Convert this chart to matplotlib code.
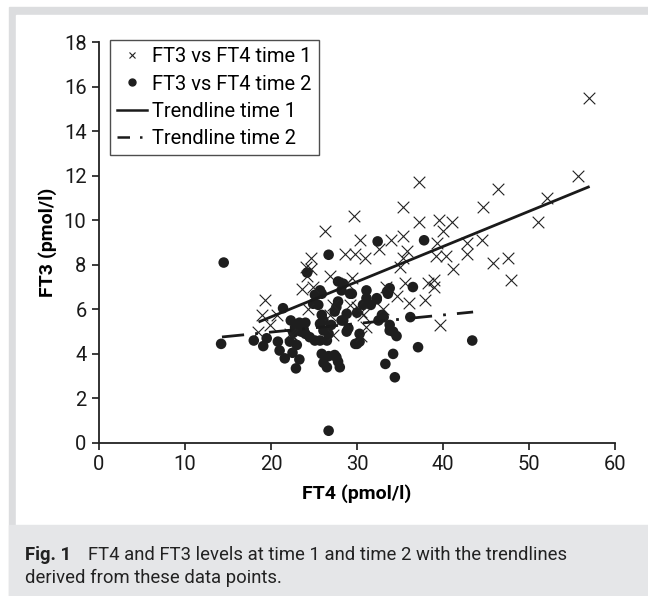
import matplotlib
matplotlib.use("Agg")
import matplotlib.pyplot as plt
import numpy as np
from matplotlib.patches import Rectangle
from matplotlib.lines import Line2D

plt.rcParams['font.family'] = ['Roboto', 'DejaVu Sans']

# FT4 / FT3 at time 1 (crosses)
ft4_t1 = [57.0, 55.7, 46.4, 37.2, 52.1, 35.4, 44.7, 29.7, 51.0, 26.3,
          37.2, 39.5, 41.1, 30.3, 34.0, 35.4, 39.3, 40.0, 42.8, 44.5,
          28.6, 29.8, 30.9, 32.5, 35.4, 39.2, 40.4, 42.8, 24.7, 26.9,
          29.4, 41.2, 45.8, 47.6, 47.9, 38.9, 37.9, 39.7, 33.4, 29.2,
          24.9, 24.1, 24.7, 24.2, 23.6, 19.3, 24.3, 18.9, 20.7, 27.2,
          27.2, 18.5, 22.4, 28.8, 19.9, 22.2, 30.5, 31.1, 26.9, 30.0,
          30.7, 30.5, 35.0, 35.6, 34.6, 35.8, 38.3, 39.0, 33.0, 36.0]
ft3_t1 = [15.5, 12.0, 11.4, 11.7, 11.0, 10.6, 10.6, 10.2, 9.9, 9.5,
          9.9, 10.0, 9.9, 9.1, 9.1, 9.3, 9.0, 9.5, 9.0, 9.1,
          8.5, 8.5, 8.3, 8.7, 8.3, 8.4, 8.4, 8.5, 8.3, 7.5,
          7.4, 7.8, 8.1, 8.3, 7.3, 7.3, 6.4, 5.3, 7.0, 6.2,
          7.0, 7.9, 7.8, 7.5, 6.9, 6.4, 6.0, 5.75, 5.75, 6.2,
          4.85, 5.0, 4.85, 7.2, 5.3, 4.9, 5.9, 5.2, 5.75, 6.1,
          5.75, 4.8, 7.9, 7.2, 6.6, 8.6, 7.2, 7.0, 6.0, 6.3]

# FT4 / FT3 at time 2 (dots)
ft4_t2 = [14.5, 14.2, 18.0, 19.1, 19.5, 20.8, 21.0, 21.6, 22.2, 22.5,
          23.0, 23.3, 22.9, 21.4, 22.3, 22.8, 23.3, 23.8, 22.6, 24.0,
          23.5, 24.2, 26.7, 25.3, 25.9, 25.5, 25.9, 26.1, 25.7, 26.1,
          26.7, 26.5, 25.9, 26.7, 26.1, 26.5, 27.6, 27.8, 28.0, 26.7,
          27.8, 27.6, 28.8, 28.4, 29.0, 28.8, 30.0, 30.0, 30.3, 30.7,
          32.3, 33.6, 33.1, 33.8, 33.3, 28.4, 27.8, 28.2, 25.7, 25.1,
          31.1, 29.4, 25.7, 25.1, 24.5, 24.0, 23.4, 27.4, 30.3, 32.9,
          32.5, 33.8, 34.2, 34.6, 34.2, 34.4, 36.2, 32.4, 37.8, 31.1,
          32.3, 33.5, 33.8, 36.5, 29.2, 37.1, 43.4, 24.9, 29.8, 28.2,
          27.0, 27.4, 31.6]
ft3_t2 = [8.1, 4.45, 4.6, 4.35, 4.7, 4.55, 4.15, 3.8, 4.55, 4.05,
          4.4, 3.75, 3.35, 6.05, 5.5, 5.2, 5.4, 5.1, 4.95, 5.4,
          5.0, 7.65, 8.45, 6.65, 6.7, 6.2, 5.75, 5.5, 5.35, 5.05,
          4.9, 4.6, 4.0, 3.9, 3.6, 3.4, 3.85, 3.65, 3.4, 0.55,
          6.35, 6.1, 5.8, 5.5, 5.15, 5.0, 5.85, 4.45, 4.55, 6.2,
          6.5, 6.7, 5.65, 5.05, 3.55, 7.15, 7.25, 6.85, 6.85, 6.65,
          6.5, 6.7, 4.6, 4.6, 4.75, 4.9, 5.3, 3.95, 4.9, 5.75,
          5.5, 5.3, 5.0, 4.8, 4.0, 2.95, 5.65, 9.05, 9.1, 6.85,
          6.45, 6.8, 6.95, 7.0, 6.7, 4.3, 4.6, 6.25, 4.45, 5.5,
          5.3, 5.9, 6.2]

# trendlines: x range, slope, intercept
trend1_x = [18.7, 56.9]
trend1_coef = [0.158, 2.50]
trend2_x = [14.3, 43.5]
trend2_coef = [0.0384, 4.21]

fig = plt.figure(figsize=(6.48, 5.96), dpi=100)
W, H = 648, 596

def px_rect(x0, y0, x1, y1, color):
    fig.patches.append(Rectangle((x0 / W, 1 - y1 / H), (x1 - x0) / W, (y1 - y0) / H,
                                 transform=fig.transFigure, color=color, zorder=-5))

px_rect(9, 7, 648, 596, '#dcdddf')
px_rect(16, 15, 648, 525, 'white')
px_rect(9, 525, 648, 596, '#e5e6e8')

ax = fig.add_axes([99 / W, 1 - 443 / H, (615 - 99) / W, (443 - 42) / H])
ax.set_facecolor('none')

ax.scatter(ft4_t1, ft3_t1, marker='x', s=70, c='#222222', linewidths=0.8, zorder=3)
ax.scatter(ft4_t2, ft3_t2, marker='o', s=58, c='#1e1e1e', edgecolors='none', zorder=2)

x1 = np.array(trend1_x)
ax.plot(x1, np.polyval(trend1_coef, x1), color='#1a1a1a', lw=2.0, zorder=4)
x2 = np.array(trend2_x)
ax.plot(x2, np.polyval(trend2_coef, x2), color='#1a1a1a', lw=2.0,
        linestyle=(0, (8, 4, 1, 4)), zorder=4)

ax.set_xlim(0, 60)
ax.set_ylim(0, 18)
ax.set_xticks(range(0, 61, 10))
ax.set_yticks(range(0, 19, 2))
for s in ['top', 'right']:
    ax.spines[s].set_visible(False)
for s in ['left', 'bottom']:
    ax.spines[s].set_linewidth(1.3)
    ax.spines[s].set_color('#222222')
ax.tick_params(direction='out', length=5, width=1.2, labelsize=14.5, colors='#1a1a1a', pad=4)
ax.set_xlabel('FT4 (pmol/l)', fontsize=14, fontweight='bold', labelpad=7)
ax.set_ylabel('FT3 (pmol/l)', fontsize=14, fontweight='bold', labelpad=5)

handles = [
    Line2D([], [], marker='x', ls='none', color='#222222', markersize=5, markeredgewidth=0.8),
    Line2D([], [], marker='o', ls='none', color='#1e1e1e', markersize=5),
    Line2D([], [], color='#1a1a1a', lw=1.8),
    Line2D([], [], color='#1a1a1a', lw=1.8, linestyle=(0, (5, 4, 1, 4))),
]
labels = ['FT3 vs FT4 time 1', 'FT3 vs FT4 time 2', 'Trendline time 1', 'Trendline time 2']
leg = ax.legend(handles, labels, loc='upper left', bbox_to_anchor=(0.021, 1.005),
                fontsize=14.5, frameon=True, fancybox=False, handlelength=1.5,
                handletextpad=0.25, borderpad=0.35, labelspacing=0.42, borderaxespad=0.0)
leg.get_frame().set_edgecolor('#222222')
leg.get_frame().set_linewidth(1.0)

fig.text(25 / W, 1 - 555 / H, 'Fig. 1', fontsize=13.3, fontweight='bold', va='center', color='#222222')
fig.text(88 / W, 1 - 555 / H, 'FT4 and FT3 levels at time 1 and time 2 with the trendlines',
         fontsize=13.3, va='center', color='#222222')
fig.text(25 / W, 1 - 578 / H, 'derived from these data points.', fontsize=13.3, va='center', color='#222222')

fig.savefig('out.png', dpi=100)
